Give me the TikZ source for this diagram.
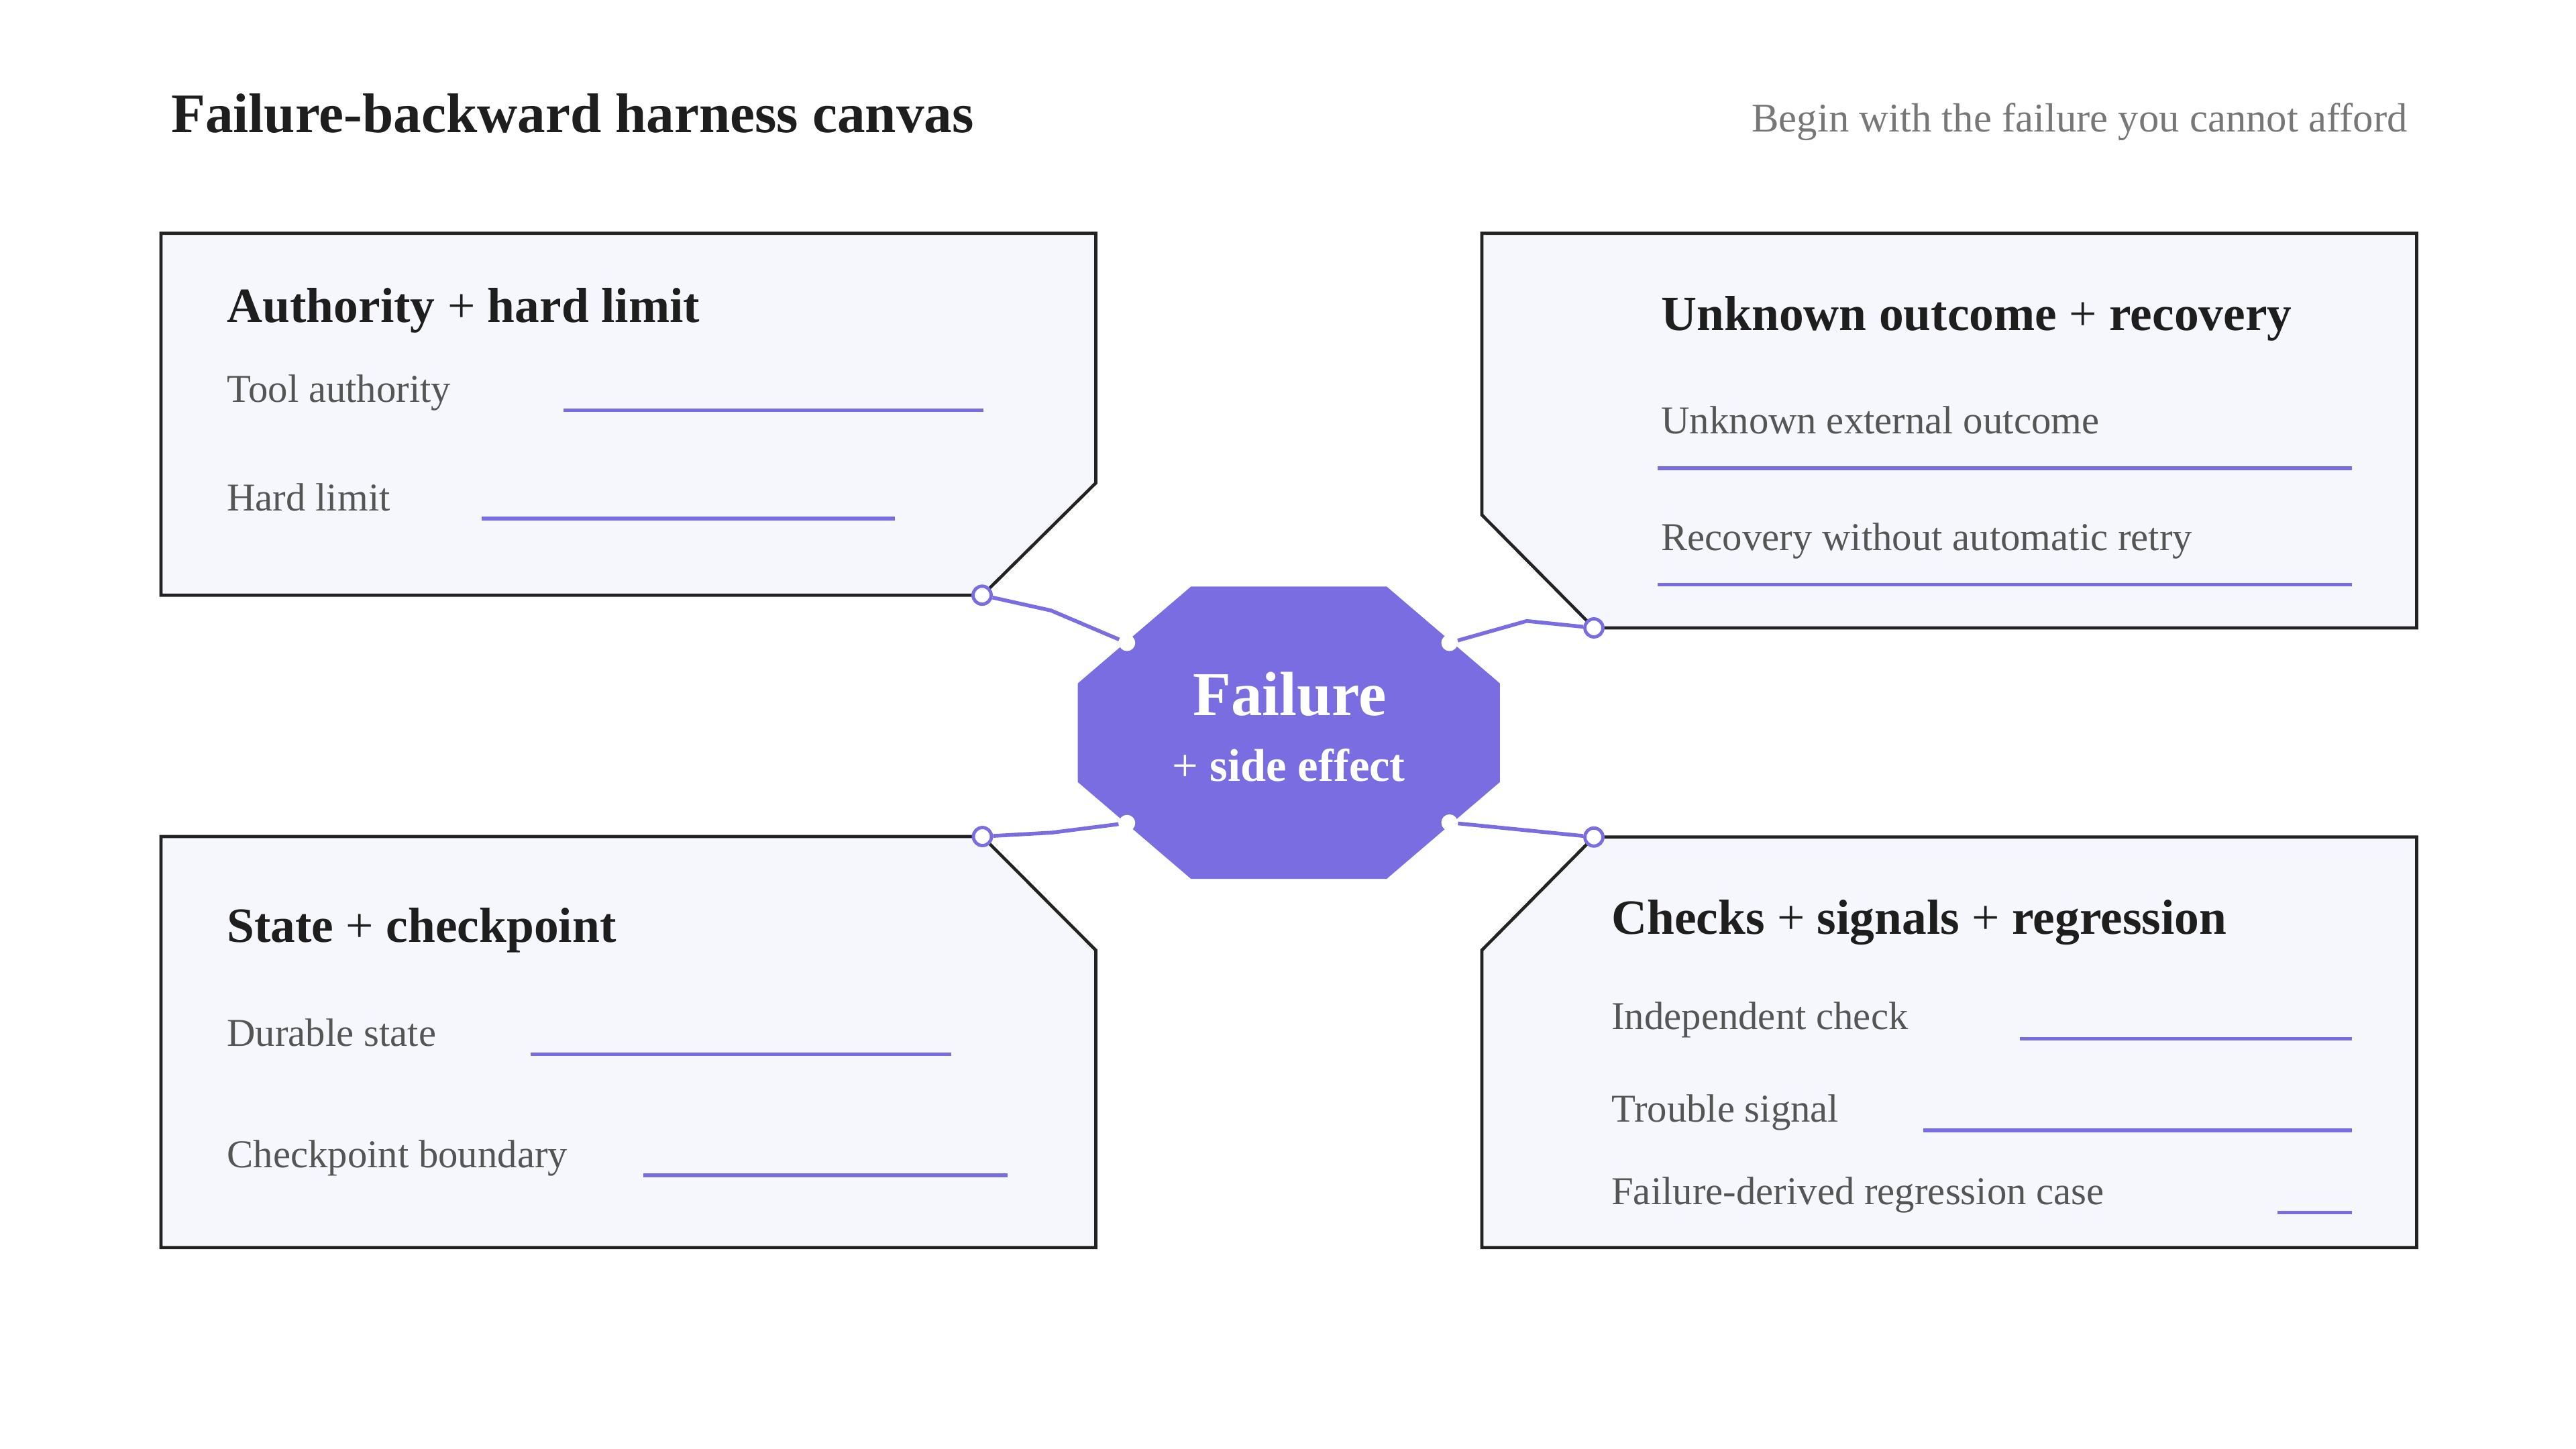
\documentclass[tikz,border=0pt]{standalone}
\usepackage{fontspec}
\setmainfont{Liberation Serif}
\definecolor{ink}{HTML}{1E1E1E}
\definecolor{itemgray}{HTML}{555555}
\definecolor{subgray}{HTML}{777777}
\definecolor{cardfill}{HTML}{F6F7FC}
\definecolor{cardline}{HTML}{222222}
\definecolor{accent}{HTML}{7A6DE2}
\begin{document}
\begin{tikzpicture}[x=1pt,y=-1pt,
  card/.style={fill=cardfill, draw=cardline, line width=1.9pt, line join=miter},
  blank/.style={draw=accent, line width=2.2pt},
  link/.style={draw=accent, line width=2.3pt, line join=round},
  hdr/.style={anchor=base west, inner sep=0pt, text=ink, font=\fontsize{30}{36}\selectfont\bfseries},
  itemtxt/.style={anchor=base west, inner sep=0pt, text=itemgray, font=\fontsize{24}{29}\selectfont},
  port/.style={circle, fill=white, draw=accent, line width=2pt, inner sep=0pt, minimum size=11pt},
  hub/.style={circle, fill=white, inner sep=0pt, minimum size=10pt}]
\useasboundingbox[fill=white] (0,0) rectangle (1568,882);

% headings
\node[anchor=base west, inner sep=0pt, text=ink, font=\fontsize{34}{41}\selectfont\bfseries] (title) at (104,80.6) {Failure-backward harness canvas};
\node[anchor=base east, inner sep=0pt, text=subgray, font=\fontsize{24.8}{30}\selectfont] (subtitle) at (1465.5,80.3) {Begin with the failure you cannot afford};

% cards
\draw[card] (98,142) -- (667,142) -- (667,294) -- (598,362.3) -- (98,362.3) -- cycle;
\draw[card] (902,142) -- (1471,142) -- (1471,382.2) -- (970.2,382.2) -- (902,313.4) -- cycle;
\draw[card] (98,509.2) -- (598,509.2) -- (667,578.4) -- (667,759.4) -- (98,759.4) -- cycle;
\draw[card] (970.2,509.5) -- (1471,509.5) -- (1471,759.4) -- (902,759.4) -- (902,578.4) -- cycle;

% top-left card
\node[hdr] (tlh) at (138,196.4) {Authority {\mdseries +} hard limit};
\node[itemtxt] (tl1) at (138,245) {Tool authority};
\draw[blank] (343,249.8) -- (598.5,249.8);
\node[itemtxt] (tl2) at (138,310.8) {Hard limit};
\draw[blank] (293,315.7) -- (544.6,315.7);

% top-right card
\node[hdr] (trh) at (1011,201.3) {Unknown outcome {\mdseries +} recovery};
\node[itemtxt] (tr1) at (1011,264) {Unknown external outcome};
\draw[blank] (1009,285) -- (1431.6,285);
\node[itemtxt] (tr2) at (1011,334.9) {Recovery without automatic retry};
\draw[blank] (1009,355.9) -- (1431.6,355.9);

% bottom-left card
\node[hdr] (blh) at (138,573.5) {State {\mdseries +} checkpoint};
\node[itemtxt] (bl1) at (138,636.7) {Durable state};
\draw[blank] (323,641.6) -- (579,641.6);
\node[itemtxt] (bl2) at (138,710.5) {Checkpoint boundary};
\draw[blank] (391.4,715.4) -- (613.3,715.4);

% bottom-right card
\node[hdr] (brh) at (980.7,568.4) {Checks {\mdseries +} signals {\mdseries +} regression};
\node[itemtxt] (br1) at (980.7,626.7) {Independent check};
\draw[blank] (1229.4,632.2) -- (1431.6,632.2);
\node[itemtxt] (br2) at (980.7,682.8) {Trouble signal};
\draw[blank] (1170.8,688) -- (1431.6,688);
\node[itemtxt] (br3) at (980.7,733) {Failure-derived regression case};
\draw[blank] (1386.4,738) -- (1431.6,738);

% central octagon
\fill[accent] (725,357) -- (844,357) -- (913,416) -- (913,476) -- (844,535) -- (725,535) -- (656,476) -- (656,416) -- cycle;
\node[anchor=base, inner sep=0pt, text=white, font=\fontsize{38}{45}\selectfont\bfseries] (fail) at (785,435.5) {Failure};
\node[anchor=base, inner sep=0pt, text=white, font=\fontsize{28}{34}\selectfont\bfseries] (side) at (784.5,475.7) {{\mdseries +} side effect};

% hub dots and ports
\node[hub] (hTL) at (686,391.3) {};
\node[hub] (hTR) at (882.3,391.3) {};
\node[hub] (hBL) at (686,501) {};
\node[hub] (hBR) at (882.3,500.7) {};
\node[port] (pTL) at (597.8,362.3) {};
\node[port] (pTR) at (970.2,382.2) {};
\node[port] (pBL) at (598,509.2) {};
\node[port] (pBR) at (970.2,509.5) {};
\coordinate (kTL) at (639.7,371.6);
\coordinate (kTR) at (929.3,378);
\coordinate (kBL) at (640.3,506.8);

% connectors
\draw[link] (pTL) -- (kTL) -- (hTL);
\draw[link] (pTR) -- (kTR) -- (hTR);
\draw[link] (pBL) -- (kBL) -- (hBL);
\draw[link] (pBR) -- (hBR);
\end{tikzpicture}
\end{document}
